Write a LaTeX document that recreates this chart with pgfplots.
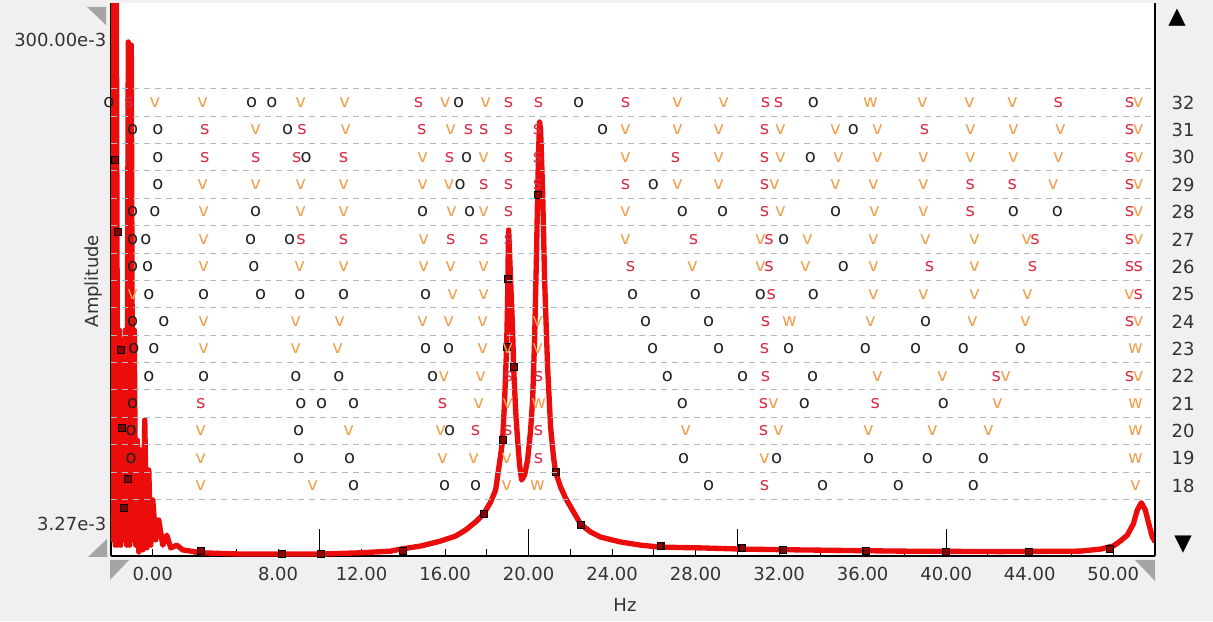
\documentclass[border=0pt]{standalone}
\usepackage{fontspec}
\setmainfont{DejaVu Sans}
\usepackage{pgfplots}
\pgfplotsset{compat=1.18}
\definecolor{bgc}{RGB}{240,240,240}
\definecolor{curvec}{RGB}{235,12,12}
\definecolor{sred}{RGB}{214,48,72}
\definecolor{vorg}{RGB}{240,160,80}
\definecolor{odark}{RGB}{35,35,35}
\definecolor{gridc}{RGB}{175,185,198}
\definecolor{tri}{RGB}{165,165,165}
\newcommand\tf{\fontsize{13.5pt}{15pt}\selectfont}
\newcommand\lf{\fontsize{13.5pt}{13.5pt}\selectfont}
\begin{document}
\begin{tikzpicture}
\fill[bgc] (0,0) rectangle (909.75pt,465.75pt);
\begin{axis}[
  name=main, at={(83.25pt,48.75pt)}, anchor=south west,
  scale only axis, width=783pt, height=414.75pt,
  xmin=0, xmax=50, ymode=log, ymin=0.002494, ymax=0.436,
  axis x line*=bottom, axis y line*=left,
  axis line style={black, line width=0.9pt},
  axis background/.style={fill=white},
  tick align=inside,
  tick style={black, line width=0.75pt},
  major tick length=5.5pt, minor tick length=5.5pt,
  xtick={2,8,12,16,20,24,28,32,36,40,44,48},
  xticklabels={0.00,8.00,12.00,16.00,20.00,24.00,28.00,32.00,36.00,40.00,44.00,50.00},
  minor xtick={4,6,10,14,18,22,26,30,34,38,42,46},
  extra x ticks={10,20,30,40},
  extra x tick labels={},
  extra x tick style={major tick length=20pt},
  ytick={0.00327,0.004629,0.006554,0.009278,0.013135,0.018595,0.026325,0.037268,0.052761,0.074694,0.10575,0.14970,0.21193,0.30003},
  yticklabels={{3.27e-3},{},{},{},{},{},{},{},{},{},{},{},{},{300.00e-3}},
  tick label style={font=\tf, text=black!80},
  x tick label style={yshift=-4.5pt},
  y tick label style={yshift=2.5pt},
  xlabel={Hz}, ylabel={Amplitude},
  every axis x label/.style={at={(axis description cs:0.4923,-0.0886)}, anchor=center, font=\tf, text=black!80},
  every axis y label/.style={at={(axis description cs:-0.0172,0.497)}, anchor=center, rotate=90, font=\tf, text=black!80},
]
\addplot[curvec, line width=4pt, line join=round, mark=none] table {
x y
0.014 0.593
0.086 0.00290
0.134 0.593
0.206 0.00276
0.254 0.593
0.326 0.00276
0.397 0.02057
0.469 0.00276
0.541 0.01874
0.613 0.00290
0.685 0.02057
0.756 0.00276
0.828 0.303
0.900 0.00276
0.972 0.2945
1.044 0.00290
1.115 0.02057
1.187 0.00276
1.259 0.00737
1.331 0.00259
1.427 0.00671
1.522 0.00264
1.618 0.00888
1.714 0.00269
1.810 0.00557
1.905 0.00276
2.001 0.00421
2.145 0.00290
2.288 0.00349
2.480 0.00276
2.671 0.00303
2.863 0.00269
3.150 0.00276
3.437 0.00264
3.820 0.00261
4.299 0.00257
6.214 0.00254
8.176 0.00254
10.043 0.00254
11.958 0.00257
13.394 0.00261
13.873 0.00266
14.831 0.002738
15.788 0.002868
16.506 0.003006
16.985 0.00318
17.463 0.00343
17.846 0.00369
18.181 0.004128
18.421 0.004618
18.660 0.006403
18.756 0.00737
18.852 0.0107
18.947 0.01755
18.995 0.02722
19.019 0.03957
19.043 0.05235
19.139 0.03281
19.234 0.02057
19.282 0.01457
19.378 0.00975
19.474 0.00737
19.569 0.005832
19.665 0.00507
19.809 0.005313
19.952 0.00611
20.096 0.008087
20.192 0.0107
20.287 0.01874
20.383 0.04342
20.431 0.0726
20.479 0.1105
20.527 0.1435
20.575 0.1331
20.670 0.07604
20.766 0.03281
20.910 0.01457
21.053 0.00832
21.197 0.006226
21.293 0.00546
21.532 0.00475
21.771 0.004285
22.154 0.003761
22.489 0.003363
22.968 0.003121
23.446 0.002977
24.403 0.002843
25.361 0.00276
26.318 0.00271
28.233 0.00269
30.243 0.00266
33.020 0.00264
37.807 0.00261
42.594 0.002599
46.424 0.00261
47.381 0.00266
48.004 0.002738
48.339 0.002868
48.674 0.00303
48.961 0.003363
49.153 0.003832
49.344 0.00410
49.536 0.003832
49.679 0.00343
49.871 0.002977
50.014 0.002843
};
\addplot[only marks, mark=square*, mark size=2.6pt, mark options={draw=black, fill=red!55!black, line width=0.8pt}] table {
x y
0.182 0.1006
0.326 0.05137
0.469 0.01707
0.517 0.00824
0.804 0.00512
0.613 0.00390
4.299 0.00261
8.176 0.00254
10.043 0.00254
13.97 0.00261
17.846 0.00369
18.756 0.00737
18.947 0.01755
18.995 0.0331
19.282 0.01457
20.431 0.0726
21.293 0.00546
22.489 0.00333
26.318 0.00273
30.243 0.00269
32.207 0.00264
36.18 0.00261
40.01 0.00259
43.98 0.00259
47.86 0.00266
};
\end{axis}
\begin{axis}[
  at={(main.south west)}, anchor=south west,
  scale only axis, width=783pt, height=414.75pt,
  xmin=0, xmax=50, ymin=15.432, ymax=35.637,
  axis x line=none, axis y line*=right,
  axis line style={black, line width=0.9pt},
  xtick=\empty,
  ytick={18,19,20,21,22,23,24,25,26,27,28,29,30,31,32},
  yticklabels={18,19,20,21,22,23,24,25,26,27,28,29,30,31,32},
  major tick length=0pt, minor tick length=0pt,
  minor ytick={17.5,18.5,19.5,20.5,21.5,22.5,23.5,24.5,25.5,26.5,27.5,28.5,29.5,30.5,31.5,32.5},
  yminorgrids=true,
  minor grid style={gridc, line width=0.75pt, dash pattern=on 4.5pt off 3.75pt},
  tick label style={font=\tf, text=black!80},
  y tick label style={xshift=9pt},
  clip=false,
]
% o marks
\addplot[only marks, color=odark, mark=text, text mark={o}, text mark as node=true, text mark style={font=\lf, text=odark}] table {
x y
-0.1 32
6.74 32
7.70 32
16.65 32
22.39 32
33.64 32
1.04 31
2.24 31
8.46 31
23.54 31
35.56 31
2.24 30
9.35 30
17.03 30
33.50 30
2.24 29
16.72 29
25.98 29
1.04 28
2.10 28
6.93 28
14.93 28
17.18 28
27.37 28
29.29 28
34.70 28
43.22 28
45.33 28
1.04 27
1.67 27
6.69 27
8.55 27
32.21 27
1.04 26
1.76 26
6.84 26
35.08 26
1.81 25
4.44 25
7.17 25
9.04 25
11.14 25
15.07 25
24.98 25
27.99 25
31.10 25
33.64 25
1.04 24
2.53 24
25.60 24
28.62 24
39.01 24
1.09 23
2.05 23
15.07 23
16.17 23
25.94 23
29.10 23
32.45 23
36.13 23
38.53 23
40.82 23
43.55 23
1.81 22
4.44 22
8.85 22
10.91 22
15.40 22
26.65 22
30.25 22
33.60 22
1.04 21
9.09 21
10.09 21
11.62 21
27.37 21
33.21 21
39.87 21
0.96 20
8.99 20
16.22 20
0.96 19
8.99 19
11.43 19
27.42 19
31.88 19
36.28 19
39.10 19
41.78 19
11.62 18
15.98 18
17.46 18
28.62 18
34.08 18
37.71 18
41.30 18
};
% s marks
\addplot[only marks, color=sred, mark=text, text mark={s}, text mark as node=true, text mark style={font=\lf, text=sred}] table {
x y
0.85 32
14.73 32
19.04 32
20.48 32
24.64 32
31.35 32
31.97 32
45.37 32
48.78 32
4.49 31
9.15 31
14.88 31
17.13 31
17.85 31
19.04 31
20.43 31
31.30 31
38.96 31
48.78 31
4.49 30
6.93 30
8.90 30
11.14 30
16.22 30
19.04 30
20.43 30
27.04 30
31.30 30
48.78 30
17.85 29
19.04 29
20.43 29
24.64 29
31.30 29
41.16 29
43.17 29
48.78 29
19.04 28
31.30 28
41.16 28
48.78 28
9.10 27
11.14 27
16.27 27
17.85 27
19.04 27
27.90 27
31.52 27
44.25 27
48.78 27
24.88 26
31.52 26
39.20 26
44.13 26
48.78 26
49.20 26
31.62 25
49.20 25
31.35 24
48.78 24
31.30 23
19.04 22
20.48 22
31.35 22
42.40 22
48.78 22
4.30 21
15.88 21
31.25 21
36.61 21
17.46 20
19.00 20
20.48 20
31.25 20
20.48 19
31.30 18
};
% v marks
\addplot[only marks, color=vorg, mark=text, text mark={v}, text mark as node=true, text mark style={font=\lf, text=vorg}] table {
x y
2.10 32
4.39 32
9.09 32
11.19 32
16.00 32
17.94 32
27.13 32
29.34 32
38.86 32
41.11 32
43.17 32
49.20 32
6.93 31
11.24 31
16.27 31
24.64 31
27.13 31
29.10 31
32.06 31
34.70 31
36.71 31
41.16 31
43.22 31
45.47 31
49.20 31
14.93 30
17.85 30
24.64 30
29.10 30
32.06 30
34.84 30
36.71 30
38.91 30
41.16 30
43.22 30
45.37 30
49.20 30
4.39 29
6.93 29
9.09 29
11.14 29
14.93 29
16.18 29
27.13 29
29.10 29
31.78 29
34.70 29
36.52 29
38.91 29
45.13 29
49.20 29
4.44 28
9.09 28
11.14 28
16.31 28
17.85 28
24.64 28
32.06 28
36.56 28
38.91 28
49.20 28
4.44 27
14.97 27
24.64 27
31.10 27
33.36 27
36.52 27
39.01 27
41.35 27
43.85 27
49.20 27
4.44 26
9.04 26
11.14 26
14.97 26
16.27 26
17.85 26
27.85 26
31.10 26
33.26 26
36.52 26
41.35 26
1.04 25
16.36 25
17.85 25
36.52 25
38.91 25
41.35 25
43.89 25
48.78 25
4.44 24
8.85 24
10.95 24
14.93 24
16.17 24
17.80 24
20.43 24
36.37 24
41.26 24
43.79 24
49.20 24
4.44 23
8.85 23
10.86 23
17.80 23
19.00 23
20.43 23
15.95 22
17.70 22
36.71 22
39.82 22
42.85 22
49.20 22
17.61 21
19.00 21
31.73 21
42.45 21
4.30 20
11.38 20
15.79 20
27.52 20
31.97 20
36.28 20
39.34 20
42.02 20
4.30 19
15.88 19
17.37 19
18.95 19
31.30 19
4.30 18
9.66 18
18.95 18
49.06 18
};
% w marks
\addplot[only marks, color=vorg, mark=text, text mark={w}, text mark as node=true, text mark style={font=\lf, text=vorg}] table {
x y
36.37 32
32.50 24
49.06 23
20.48 21
49.06 21
49.06 20
49.06 19
20.43 18
};
\end{axis}
\fill[tri] (65.25pt,460.5pt) -- (79.5pt,460.5pt) -- (79.5pt,447pt) -- cycle;
\fill[tri] (80.25pt,61.5pt) -- (80.25pt,48pt) -- (66pt,48pt) -- cycle;
\fill[tri] (82.5pt,45.75pt) -- (96.75pt,45.75pt) -- (82.5pt,30.75pt) -- cycle;
\fill[tri] (851.25pt,45.75pt) -- (866.25pt,45.75pt) -- (866.25pt,30pt) -- cycle;
\node[font=\fontsize{17pt}{17pt}\selectfont, inner sep=0pt] at (882.75pt,452.25pt) {▲};
\node[font=\fontsize{17pt}{17pt}\selectfont, inner sep=0pt] at (887.25pt,57pt) {▼};
\pgfresetboundingbox
\path[use as bounding box] (0,0) rectangle (909.75pt,465.75pt);
\end{tikzpicture}
\end{document}
